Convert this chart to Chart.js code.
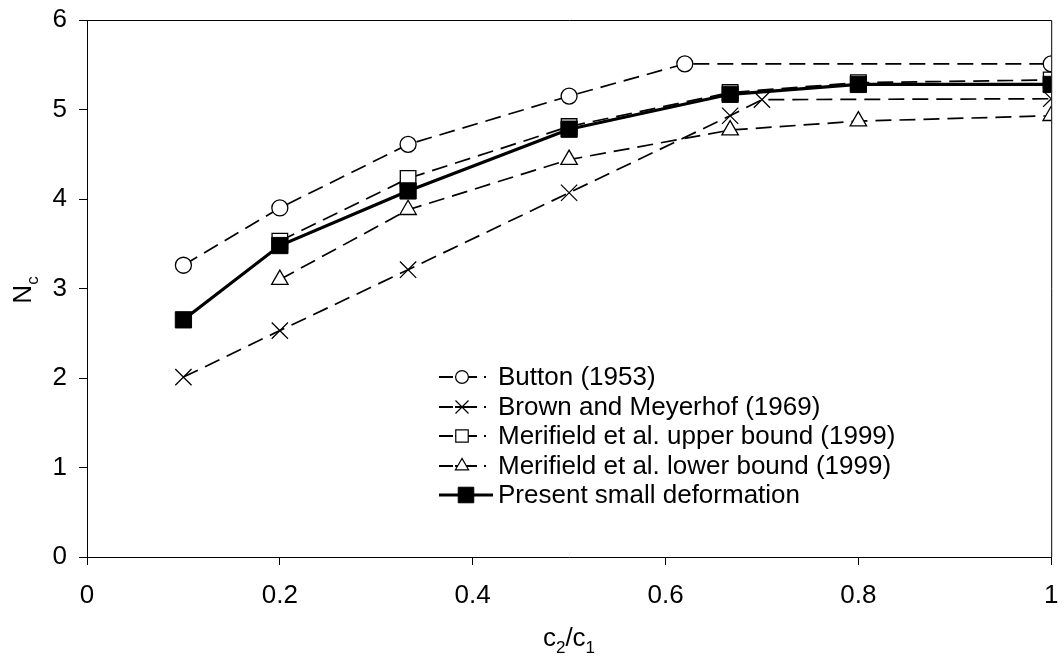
<!DOCTYPE html>
<html>
<head>
<meta charset="utf-8">
<script src="https://cdn.jsdelivr.net/npm/chart.js@4/dist/chart.umd.min.js"></script>
<style>
  html, body { margin: 0; padding: 0; background: #fff; }
  #wrap { width: 1064px; height: 662px; position: relative; }
</style>
</head>
<body>
<div id="wrap"><canvas id="c"></canvas></div>
<script>
// ---- data ----
const buttonX = [0.1, 0.2, 0.333, 0.5, 0.62, 1.0];
const buttonNc = [3.26, 3.90, 4.61, 5.15, 5.51, 5.51];

const brownX = [0.1, 0.2, 0.333, 0.5, 0.667, 0.7, 1.0];
const brownNc = [2.01, 2.53, 3.21, 4.07, 4.93, 5.11, 5.12];

const upperX = [0.2, 0.333, 0.5, 0.667, 0.8, 1.0];
const upperNc = [3.53, 4.23, 4.81, 5.19, 5.30, 5.33];

const lowerX = [0.2, 0.333, 0.5, 0.667, 0.8, 1.0];
const lowerNc = [3.10, 3.88, 4.44, 4.77, 4.87, 4.93];

const presentX = [0.1, 0.2, 0.333, 0.5, 0.667, 0.8, 1.0];
const presentNc = [2.65, 3.48, 4.09, 4.78, 5.17, 5.28, 5.28];

const seriesLabels = [
  'Button (1953)',
  'Brown and Meyerhof (1969)',
  'Merifield et al. upper bound (1999)',
  'Merifield et al. lower bound (1999)',
  'Present small deformation'
];
const xTickLabels = ['0', '0.2', '0.4', '0.6', '0.8', '1'];
const yTickLabels = ['0', '1', '2', '3', '4', '5', '6'];

// ---- helpers ----
const pts = (xs, ys) => xs.map((x, i) => ({ x: x, y: ys[i] }));
const FONT = '"Liberation Sans", Arial, Helvetica, sans-serif';
const DASH = [16, 8];

function dashedSet(label, xs, ys, style, radius, order) {
  return {
    label: label,
    data: pts(xs, ys),
    showLine: true,
    borderColor: '#000',
    borderWidth: 1.7,
    borderDash: DASH,
    pointStyle: style,
    pointRadius: radius,
    pointHoverRadius: radius,
    pointBackgroundColor: '#fff',
    pointBorderColor: '#000',
    pointBorderWidth: 1.3,
    tension: 0,
    order: order
  };
}

const datasets = [
  dashedSet(seriesLabels[0], buttonX, buttonNc, 'circle', 8, 1),
  dashedSet(seriesLabels[1], brownX, brownNc, 'crossRot', 11.5, 2),
  dashedSet(seriesLabels[2], upperX, upperNc, 'rect', 11, 3),
  dashedSet(seriesLabels[3], lowerX, lowerNc, 'triangle', 9.5, 4),
  {
    label: seriesLabels[4],
    data: pts(presentX, presentNc),
    showLine: true,
    borderColor: '#000',
    borderWidth: 3.2,
    pointStyle: 'rect',
    pointRadius: 11.5,
    pointHoverRadius: 11.5,
    pointBackgroundColor: '#000',
    pointBorderColor: '#000',
    pointBorderWidth: 1,
    tension: 0,
    order: 0
  }
];

// draw a marker the same way Chart.js does
function marker(ctx, style, r, x, y, fill) {
  ctx.beginPath();
  if (style === 'circle') {
    ctx.arc(x, y, r, 0, Math.PI * 2);
  } else if (style === 'rect') {
    const s = Math.SQRT1_2 * r;
    ctx.rect(x - s, y - s, 2 * s, 2 * s);
  } else if (style === 'triangle') {
    let a = 0;
    ctx.moveTo(x + Math.sin(a) * r, y - Math.cos(a) * r);
    a += 2 * Math.PI / 3;
    ctx.lineTo(x + Math.sin(a) * r, y - Math.cos(a) * r);
    a += 2 * Math.PI / 3;
    ctx.lineTo(x + Math.sin(a) * r, y - Math.cos(a) * r);
    ctx.closePath();
  } else if (style === 'crossRot') {
    const d = Math.SQRT1_2 * r;
    ctx.moveTo(x - d, y - d); ctx.lineTo(x + d, y + d);
    ctx.moveTo(x - d, y + d); ctx.lineTo(x + d, y - d);
  }
  if (style !== 'crossRot') { ctx.fillStyle = fill; ctx.fill(); }
  ctx.stroke();
}

const decorPlugin = {
  id: 'decor',
  afterDraw(chart) {
    const ctx = chart.ctx;
    const a = chart.chartArea;
    ctx.save();
    // frame (top / right)
    ctx.strokeStyle = '#000';
    ctx.lineWidth = 1;
    ctx.beginPath();
    ctx.moveTo(a.left, a.top + 0.5);
    ctx.lineTo(a.right + 0.5, a.top + 0.5);
    ctx.lineTo(a.right + 0.5, a.bottom);
    ctx.stroke();

    // legend
    const rows = [377, 407, 436, 466, 495];
    const lx0 = 439, lxm = 462, tx = 498;
    ctx.font = '26px ' + FONT;
    ctx.textBaseline = 'middle';
    ctx.textAlign = 'left';
    chart.data.datasets.forEach((ds, i) => {
      const y = rows[i];
      ctx.strokeStyle = '#000';
      if (i < 4) {
        ctx.lineWidth = 2;
        ctx.setLineDash([14, 2, 22, 7, 2, 100]);
        ctx.beginPath();
        ctx.moveTo(lx0, y);
        ctx.lineTo(lx0 + 52, y);
        ctx.stroke();
        ctx.setLineDash([]);
        ctx.lineWidth = 1.2;
        marker(ctx, ds.pointStyle, ds.pointRadius * 0.8, lxm, y, '#fff');
      } else {
        ctx.lineWidth = 3.2;
        ctx.setLineDash([]);
        ctx.beginPath();
        ctx.moveTo(lx0, y);
        ctx.lineTo(lx0 + 54, y);
        ctx.stroke();
        ctx.lineWidth = 1;
        marker(ctx, 'rect', 11, lxm + 4, y, '#000');
      }
      ctx.fillStyle = '#000';
      ctx.fillText(ds.label, tx, y + 1);
    });

    // axis titles with subscripts
    ctx.fillStyle = '#000';
    ctx.textBaseline = 'alphabetic';
    const big = '26px ' + FONT, small = '17px ' + FONT;
    // x title: c2/c1
    const partsX = [['c', big, 0], ['2', small, 7], ['/c', big, 0], ['1', small, 7]];
    let w = 0;
    partsX.forEach(p => { ctx.font = p[1]; w += ctx.measureText(p[0]).width; });
    let x = 569 - w / 2;
    const base = 646;
    partsX.forEach(p => {
      ctx.font = p[1];
      ctx.fillText(p[0], x, base + p[2]);
      x += ctx.measureText(p[0]).width;
    });
    // y title: Nc rotated
    ctx.translate(31, 290);
    ctx.rotate(-Math.PI / 2);
    const partsY = [['N', big, 0], ['c', small, 7]];
    w = 0;
    partsY.forEach(p => { ctx.font = p[1]; w += ctx.measureText(p[0]).width; });
    x = -w / 2;
    partsY.forEach(p => {
      ctx.font = p[1];
      ctx.fillText(p[0], x, p[2]);
      x += ctx.measureText(p[0]).width;
    });
    ctx.restore();
  }
};

new Chart(document.getElementById('c'), {
  type: 'scatter',
  data: { datasets: datasets },
  options: {
    responsive: true,
    maintainAspectRatio: false,
    animation: false,
    events: [],
    layout: { padding: { top: 20, right: 10, left: 0, bottom: 0 } },
    plugins: {
      legend: { display: false },
      tooltip: { enabled: false }
    },
    scales: {
      x: {
        type: 'linear',
        min: 0, max: 1,
        afterFit: (s) => { s.height = 105; s.paddingLeft = 0; s.paddingRight = 0; },
        afterBuildTicks: (s) => { s.ticks = xTickLabels.map(v => ({ value: parseFloat(v) })); },
        ticks: {
          color: '#000',
          font: { size: 26, family: FONT },
          padding: 15,
          maxRotation: 0,
          autoSkip: false,
          callback: (v, i) => xTickLabels[i]
        },
        grid: { drawOnChartArea: false, drawTicks: true, tickLength: 8, color: '#000', lineWidth: 1 },
        border: { display: true, color: '#000', width: 1 }
      },
      y: {
        type: 'linear',
        min: 0, max: 6,
        afterFit: (s) => { s.width = 87; s.paddingTop = 0; s.paddingBottom = 0; },
        afterBuildTicks: (s) => { s.ticks = yTickLabels.map(v => ({ value: parseFloat(v) })); },
        ticks: {
          color: '#000',
          font: { size: 26, family: FONT },
          padding: 12,
          autoSkip: false,
          callback: (v, i) => yTickLabels[i]
        },
        grid: { drawOnChartArea: false, drawTicks: true, tickLength: 8, color: '#000', lineWidth: 1 },
        border: { display: true, color: '#000', width: 1 }
      }
    }
  },
  plugins: [decorPlugin]
});
</script>
</body>
</html>
